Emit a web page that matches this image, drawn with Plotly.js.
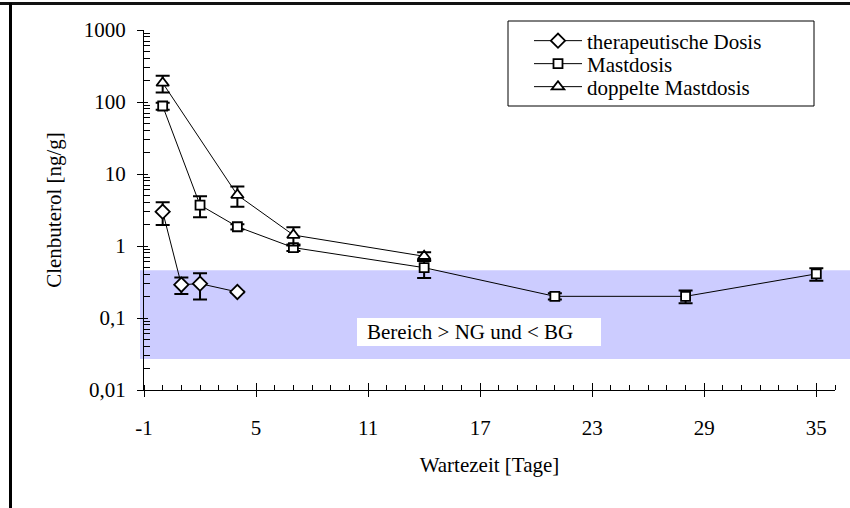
<!DOCTYPE html>
<html>
<head>
<meta charset="utf-8">
<script src="https://cdn.plot.ly/plotly-3.0.1.min.js"></script>
<style>
  html, body { margin: 0; padding: 0; background: #fff; }
  #wrap { position: relative; width: 850px; height: 508px; overflow: hidden; }
  #chart { position: absolute; left: 0; top: 0; width: 850px; height: 508px; }
  .frameTop { position: absolute; left: 0; top: 2px; width: 850px; height: 3px; background: #111; }
  .frameLeft { position: absolute; left: 9px; top: 3px; width: 3px; height: 505px; background: #000; }
</style>
</head>
<body>
<div id="wrap">
  <div id="chart"></div>
  <div class="frameTop"></div>
  <div class="frameLeft"></div>
</div>
<script>
// ---- data ----
const seriesNames = ['therapeutische Dosis', 'Mastdosis', 'doppelte Mastdosis'];

const therX = [0, 1, 2, 4];
const therY = [3.0, 0.29, 0.30, 0.23];
const therErr = [1.05, 0.075, 0.12, 0.005];

const mastX = [0, 2, 4, 7, 14, 21, 28, 35];
const mastY = [88, 3.7, 1.85, 0.95, 0.50, 0.20, 0.20, 0.41];
const mastErr = [10, 1.2, 0.15, 0.10, 0.14, 0.02, 0.04, 0.08];

const doppX = [0, 4, 7, 14];
const doppY = [184, 5.1, 1.42, 0.72];
const doppErr = [48, 1.6, 0.40, 0.10];

// range between detection limit (NG) and quantification limit (BG)
const bandLow = 0.027;
const bandHigh = 0.46;
const bandLabel = 'Bereich &gt; NG und &lt; BG';

const xTickVals = [-1, 5, 11, 17, 23, 29, 35];
const xTickText = ['-1', '5', '11', '17', '23', '29', '35'];
const yTickVals = [0.01, 0.1, 1, 10, 100, 1000];
const yTickText = ['0,01', '0,1', '1', '10', '100', '1000'];

const xTitle = 'Wartezeit [Tage]';
const yTitle = 'Clenbuterol [ng/g]';

// ---- styling ----
const FONT = 'Liberation Serif, Times New Roman, Times, serif';
const FS = 21;
const yLogRange = [-2, 3];
const xRange = [-1, 36];

function mk(name, x, y, err, symbol, size, legendId) {
  return {
    type: 'scatter', mode: 'lines+markers', name: name, legend: legendId,
    x: x, y: y,
    line: { color: '#000', width: 1 },
    marker: { symbol: symbol, size: size, color: '#fff', line: { color: '#000', width: 1.8 } },
    error_y: { type: 'data', array: err, visible: true, color: '#000', thickness: 2, width: 7 },
    cliponaxis: false
  };
}

const traces = [
  mk(seriesNames[0], therX, therY, therErr, 'diamond', 11, 'legend'),
  mk(seriesNames[1], mastX, mastY, mastErr, 'square', 9, 'legend2'),
  mk(seriesNames[2], doppX, doppY, doppErr, 'triangle-up', 11, 'legend3'),
  // carrier trace for overlay axes (inside half of major ticks)
  { type: 'scatter', x: [], y: [], xaxis: 'x2', yaxis: 'y2', showlegend: false, hoverinfo: 'skip' }
];

function yPaper(v) { return (Math.log10(v) - yLogRange[0]) / (yLogRange[1] - yLogRange[0]); }

const L = 144, R = 15, T = 30, B = 118;
const PW = 850 - L - R, PH = 508 - T - B;
function px2x(p) { return (p - L) / PW; }
function px2y(p) { return (508 - B - p) / PH; }

const minorY = [];
for (let e = -2; e < 3; e++) for (let d = 2; d <= 9; d++) minorY.push(d * Math.pow(10, e));

function legendAt(cy) {
  return {
    x: px2x(529), y: px2y(cy), xanchor: 'left', yanchor: 'middle',
    bgcolor: 'rgba(0,0,0,0)', borderwidth: 0,
    font: { family: FONT, size: FS, color: '#000' }, itemwidth: 48, tracegroupgap: 0
  };
}

const layout = {
  width: 850, height: 508,
  margin: { l: L, r: R, t: T, b: B, pad: 0 },
  paper_bgcolor: '#fff', plot_bgcolor: 'rgba(0,0,0,0)',
  font: { family: FONT, size: FS, color: '#000' },
  showlegend: true,
  xaxis: {
    range: xRange, showgrid: false, zeroline: false,
    showline: true, linecolor: '#000', linewidth: 1,
    tickmode: 'array', tickvals: xTickVals, ticktext: xTickText,
    ticks: 'outside', ticklen: 6, tickwidth: 1, tickcolor: '#000',
    ticklabelstandoff: 13,
    minor: { tickmode: 'linear', tick0: -1, dtick: 1, ticks: 'inside', ticklen: 5, tickwidth: 1, tickcolor: '#000', showgrid: false },
    tickfont: { family: FONT, size: FS },
    title: { text: xTitle, font: { family: FONT, size: FS }, standoff: 18 }
  },
  yaxis: {
    type: 'log', range: yLogRange, showgrid: false, zeroline: false,
    showline: true, linecolor: '#000', linewidth: 1,
    tickmode: 'array', tickvals: yTickVals, ticktext: yTickText,
    ticks: 'outside', ticklen: 6, tickwidth: 1, tickcolor: '#000',
    ticklabelstandoff: 7,
    minor: { tickmode: 'array', tickvals: minorY, ticks: 'inside', ticklen: 6, tickwidth: 1, tickcolor: '#000', showgrid: false },
    tickfont: { family: FONT, size: FS },
    title: { text: yTitle, font: { family: FONT, size: FS }, standoff: 16 }
  },
  xaxis2: {
    overlaying: 'x', anchor: 'y2', range: xRange, showgrid: false, zeroline: false, showline: false,
    tickmode: 'array', tickvals: xTickVals, ticks: 'inside', ticklen: 7, tickwidth: 1, tickcolor: '#000',
    showticklabels: false, side: 'bottom'
  },
  yaxis2: {
    overlaying: 'y', anchor: 'x2', type: 'log', range: yLogRange, showgrid: false, zeroline: false, showline: false,
    tickmode: 'array', tickvals: yTickVals, ticks: 'inside', ticklen: 4, tickwidth: 1, tickcolor: '#000',
    showticklabels: false, side: 'left'
  },
  legend: legendAt(41),
  legend2: legendAt(64),
  legend3: legendAt(87),
  shapes: [
    { type: 'rect', xref: 'paper', yref: 'paper', layer: 'below',
      x0: px2x(140), x1: px2x(850), y0: yPaper(bandLow), y1: yPaper(bandHigh),
      fillcolor: '#ccccff', line: { width: 0 } },
    { type: 'rect', xref: 'paper', yref: 'paper', layer: 'below',
      x0: px2x(357), x1: px2x(601), y0: px2y(346), y1: px2y(318),
      fillcolor: '#ffffff', line: { width: 0 } },
    { type: 'rect', xref: 'paper', yref: 'paper', layer: 'above',
      x0: px2x(508), x1: px2x(814), y0: px2y(106), y1: px2y(21),
      fillcolor: 'rgba(0,0,0,0)', line: { color: '#000', width: 1 } }
  ],
  annotations: [
    { xref: 'paper', yref: 'paper', x: px2x(365), y: px2y(332), xanchor: 'left', yanchor: 'middle',
      text: bandLabel, showarrow: false, font: { family: FONT, size: FS, color: '#000' } }
  ]
};

Plotly.newPlot('chart', traces, layout, { displayModeBar: false, staticPlot: true });
</script>
</body>
</html>
